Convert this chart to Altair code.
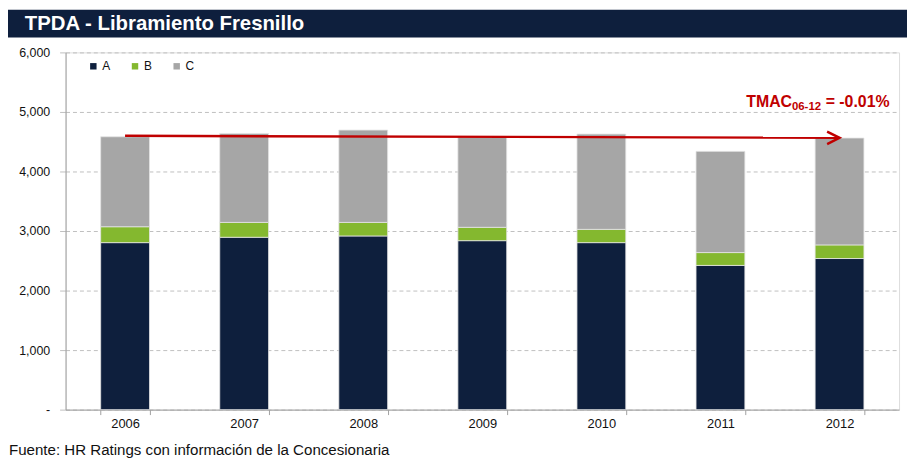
import altair as alt
import pandas as pd

years = ["2006", "2007", "2008", "2009", "2010", "2011", "2012"]
series = ["A", "B", "C"]
colors = ["#0E1F3D", "#84B82F", "#A6A6A6"]
a_vals = [2805, 2895, 2917, 2838, 2805, 2422, 2538]
b_vals = [267, 250, 228, 224, 223, 216, 229]
c_vals = [1511, 1493, 1550, 1510, 1600, 1700, 1795]

arrow_years = ["2006", "2012"]
arrow_vals = [4600, 4565]

y_ticks = [0, 1000, 2000, 3000, 4000, 5000, 6000]

title_text = "TPDA - Libramiento Fresnillo"
source_text = "Fuente: HR Ratings con información de la Concesionaria"
tmac_main = "TMAC"
tmac_sub = "06-12"
tmac_val = "= -0.01%"

FONT = "Liberation Sans"
RED = "#C00000"

rows = []
for i, y in enumerate(years):
    for k, (s, vals) in enumerate(zip(series, [a_vals, b_vals, c_vals])):
        rows.append({"year": y, "series": s, "value": vals[i], "ord": k})
df = pd.DataFrame(rows)

W, H = 840, 360

x_enc = alt.X(
    "year:N",
    sort=years,
    scale=alt.Scale(paddingInner=0.59, paddingOuter=0.295),
    axis=alt.Axis(
        title=None, labelAngle=0, tickBand="extent", tickSize=5,
        tickColor="#A0A0A0", domainColor="#A0A0A0", labelFontSize=13,
        labelPadding=3, labelColor="#111", labelFont=FONT, grid=False,
    ),
)

bars = alt.Chart(df).mark_bar(stroke="#E4E4E4", strokeWidth=0.8).encode(
    x=x_enc,
    y=alt.Y(
        "value:Q",
        stack="zero",
        scale=alt.Scale(domain=[0, 6000], nice=False),
        axis=alt.Axis(
            title=None, values=y_ticks,
            labelExpr="datum.value == 0 ? '-' : format(datum.value, ',')",
            grid=True, gridDash=[4, 3], gridColor="#BFBFBF", gridWidth=1,
            tickSize=6, tickColor="#BFBFBF", domainColor="#A0A0A0",
            labelFontSize=12.5, labelPadding=10, labelColor="#111", labelFont=FONT,
        ),
    ),
    color=alt.Color(
        "series:N",
        scale=alt.Scale(domain=series, range=colors),
        legend=alt.Legend(
            title=None, orient="none", legendX=22, legendY=8,
            direction="horizontal", symbolType="square", symbolSize=42,
            symbolStrokeWidth=0, labelFontSize=12, labelFont=FONT,
            labelColor="#111", columnPadding=18, labelOffset=3,
        ),
    ),
    order=alt.Order("ord:Q", sort="ascending"),
)

arrow_df = pd.DataFrame({"year": arrow_years, "value": arrow_vals})
arrow_line = alt.Chart(arrow_df).mark_line(color=RED, strokeWidth=2.5).encode(
    x=alt.X("year:N", sort=years), y="value:Q"
)
arrow_head = alt.Chart(arrow_df.tail(1)).mark_point(
    shape="M-1,-0.5L0,0L-1,0.5", filled=False, size=625, strokeWidth=2.5,
    color=RED, opacity=1, strokeJoin="miter",
).encode(x=alt.X("year:N", sort=years), y="value:Q")

title_bar = alt.Chart(pd.DataFrame({"t": [title_text]})).mark_rect(
    color="#0E1F3D"
).encode(x=alt.value(-58), x2=alt.value(848), y=alt.value(-43), y2=alt.value(-15))

title = alt.Chart(pd.DataFrame({"t": [title_text]})).mark_text(
    align="left", baseline="middle", font=FONT, fontSize=20.5, fontWeight="bold",
    color="white",
).encode(x=alt.value(-41), y=alt.value(-29), text="t:N")

source = alt.Chart(pd.DataFrame({"t": [source_text]})).mark_text(
    align="left", baseline="middle", font=FONT, fontSize=15.2, color="#111",
).encode(x=alt.value(-57), y=alt.value(401), text="t:N")

tmac1 = alt.Chart(pd.DataFrame({"t": [tmac_main]})).mark_text(
    align="left", baseline="alphabetic", font=FONT, fontSize=16,
    fontWeight="bold", color=RED,
).encode(x=alt.value(686), y=alt.value(55), text="t:N")
tmac2 = alt.Chart(pd.DataFrame({"t": [tmac_sub]})).mark_text(
    align="left", baseline="alphabetic", font=FONT, fontSize=11.5,
    fontWeight="bold", color=RED,
).encode(x=alt.value(732), y=alt.value(58.5), text="t:N")
tmac3 = alt.Chart(pd.DataFrame({"t": [tmac_val]})).mark_text(
    align="left", baseline="alphabetic", font=FONT, fontSize=16,
    fontWeight="bold", color=RED,
).encode(x=alt.value(766), y=alt.value(55), text="t:N")

chart = alt.layer(
    title_bar, bars, arrow_line, arrow_head, title, source, tmac1, tmac2, tmac3
).properties(
    width=W, height=H,
    autosize=alt.AutoSizeParams(type="none"),
    padding={"left": 58, "top": 43, "right": 8, "bottom": 48},
).configure_view(stroke=None).configure(background="white")

chart.save("out.html", embed_options={"renderer": "svg", "actions": False})
